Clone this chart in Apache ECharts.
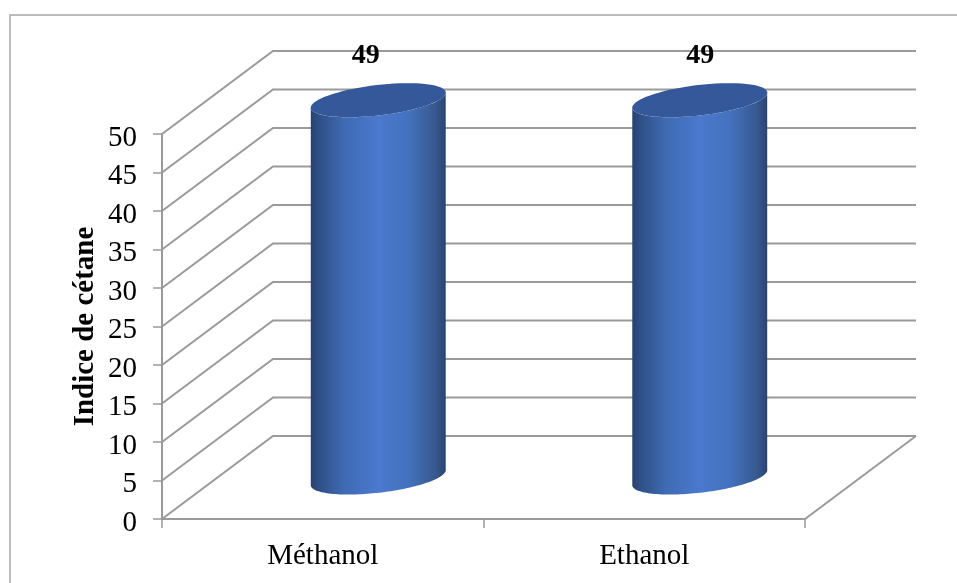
<!DOCTYPE html>
<html>
<head>
<meta charset="utf-8">
<style>html,body{margin:0;padding:0;background:#fff}#chart{width:957px;height:583px}</style>
<script src="https://cdn.jsdelivr.net/npm/echarts@6/dist/echarts.min.js"></script>
</head>
<body>
<div id="chart"></div>
<script>
const categories = ['Méthanol', 'Ethanol'];
const cetaneIndex = [49, 49];
const wallTicks = [0, 5, 10, 15, 20, 25, 30, 35, 40, 45, 50];

// Oblique projection used for the 3D look: how far the back wall sits from the front plane.
const DEPTH_X = 111;
const DEPTH_Y = -83;
const GREY = '#9a9a9a';
const SERIF = '"Liberation Serif", serif';
// Horizontal shift of each value label from its category's front centre.
const LABEL_SHIFT = [43, 56];

// Tilted ellipse standing for a cylinder's cap, sampled as a point list.
const RX = 68, RY = 15.2, TILT = 6.7 * Math.PI / 180;
function ellipsePoint(cx, cy, t) {
  const ex = RX * Math.cos(t), ey = RY * Math.sin(t);
  return [cx + ex * Math.cos(TILT) + ey * Math.sin(TILT),
          cy - ex * Math.sin(TILT) + ey * Math.cos(TILT)];
}
function arc(cx, cy, from, to) {
  const pts = [];
  for (let i = 0; i <= 72; i++) pts.push(ellipsePoint(cx, cy, from + (to - from) * i / 72));
  return pts;
}
// Parameter of the horizontally extreme points of the cap.
const EDGE = Math.atan2(RY * Math.sin(TILT), RX * Math.cos(TILT));

function renderWall(params, api) {
  const v = api.value(0);
  const front = api.coord([0, v]);
  const band = api.size([1, 0])[0];
  const left = front[0] - band / 2;
  const y = front[1];
  const children = [{
    type: 'polyline',
    shape: { points: [[left, y], [left + DEPTH_X, y + DEPTH_Y], [left + DEPTH_X + band * 2, y + DEPTH_Y]] },
    style: { fill: 'none', stroke: GREY, lineWidth: 2 }
  }];
  if (v === 0) {
    // floor edge on the right-hand side
    children.push({
      type: 'line',
      shape: { x1: left + band * 2, y1: y, x2: left + DEPTH_X + band * 2, y2: y + DEPTH_Y },
      style: { stroke: GREY, lineWidth: 2 }
    });
  }
  return { type: 'group', children };
}

function renderCylinder(params, api) {
  const base = api.coord([api.value(0), 0]);
  const top = api.coord([api.value(0), api.value(1)]);
  const cx = base[0] + DEPTH_X / 2;
  const yBase = base[1] + DEPTH_Y / 2;
  const yTop = top[1] + DEPTH_Y / 2;
  // lower half of the base, then back along the upper side of the cap
  const lower = arc(cx, yBase, Math.PI - EDGE, -EDGE);
  const upper = arc(cx, yTop, -EDGE, Math.PI - EDGE);
  return {
    type: 'group',
    children: [{
      type: 'polygon',
      shape: { points: lower.concat(upper) },
      style: {
        fill: {
          type: 'linear', x: 0, y: 0, x2: 1, y2: 0,
          colorStops: [
            { offset: 0, color: '#28416e' },
            { offset: 0.06, color: '#2f4f86' },
            { offset: 0.25, color: '#3f6bb4' },
            { offset: 0.5, color: '#4a79ce' },
            { offset: 0.72, color: '#4472bf' },
            { offset: 0.92, color: '#38598f' },
            { offset: 1, color: '#2a4470' }
          ]
        }
      }
    }, {
      type: 'polygon',
      shape: { points: arc(cx, yTop, 0, Math.PI * 2) },
      style: { fill: '#34589a' }
    }]
  };
}

function renderValue(params, api) {
  const top = api.coord([api.value(0), api.value(1)]);
  return {
    type: 'text',
    x: top[0] + LABEL_SHIFT[params.dataIndex],
    y: top[1] + DEPTH_Y - 3,
    style: {
      text: String(api.value(1)),
      fill: '#000',
      font: 'bold 28px ' + SERIF,
      align: 'center',
      verticalAlign: 'middle'
    }
  };
}

const chart = echarts.init(document.getElementById('chart'), null, { renderer: 'canvas' });
chart.setOption({
  animation: false,
  backgroundColor: '#fff',
  graphic: [{
    type: 'rect',
    shape: { x: 10, y: 15, width: 960, height: 590 },
    style: { fill: 'none', stroke: '#a6a6a6', lineWidth: 1.5 },
    silent: true,
    z: 0
  }],
  grid: { left: 162, right: 152, top: 134, bottom: 64 },
  xAxis: {
    type: 'category',
    data: categories,
    axisLine: { show: true, lineStyle: { color: GREY, width: 2 } },
    axisTick: { show: true, inside: false, alignWithLabel: false, length: 9, lineStyle: { color: GREY, width: 1.5 } },
    axisLabel: { color: '#000', fontFamily: SERIF, fontSize: 29, margin: 23 }
  },
  yAxis: {
    type: 'value',
    min: 0,
    max: 50,
    interval: 5,
    name: 'Indice de cétane',
    nameLocation: 'middle',
    nameGap: 62,
    nameMoveOverlap: false,
    nameTextStyle: { color: '#000', fontFamily: SERIF, fontSize: 29, fontWeight: 'bold' },
    splitLine: { show: false },
    axisLine: { show: true, lineStyle: { color: GREY, width: 2 } },
    axisTick: { show: true, inside: false, length: 9, lineStyle: { color: GREY, width: 1.5 } },
    axisLabel: { color: '#000', fontFamily: SERIF, fontSize: 29, margin: 25, verticalAlign: 'top', lineHeight: 8 }
  },
  series: [{
    type: 'custom',
    renderItem: renderWall,
    data: wallTicks.map(v => [v]),
    encode: { y: 0 },
    z: 1,
    silent: true
  }, {
    type: 'custom',
    renderItem: renderCylinder,
    data: cetaneIndex.map((v, i) => [i, v]),
    encode: { x: 0, y: 1 },
    z: 3,
    silent: true
  }, {
    type: 'custom',
    renderItem: renderValue,
    data: cetaneIndex.map((v, i) => [i, v]),
    encode: { x: 0, y: 1 },
    z: 4,
    silent: true
  }]
});
</script>
</body>
</html>
